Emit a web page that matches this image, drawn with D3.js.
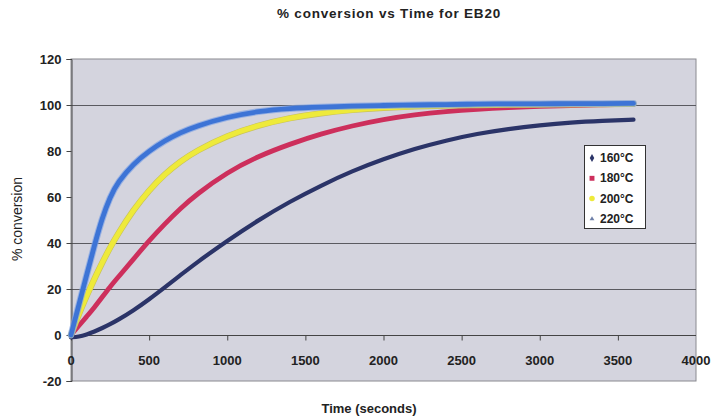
<!DOCTYPE html>
<html>
<head>
<meta charset="utf-8">
<script src="https://cdn.jsdelivr.net/npm/d3@7"></script>
<style>
  html, body { margin: 0; padding: 0; background: #ffffff; }
  svg { display: block; font-family: "Liberation Sans", Arial, sans-serif; }
</style>
</head>
<body>
<svg id="chart" width="713" height="420"></svg>
<script>
// ---- data ----
const chartTitle = "% conversion vs Time for EB20";
const xAxisTitle = "Time (seconds)";
const yAxisTitle = "% conversion";
const seriesNames = ["160°C", "180°C", "200°C", "220°C"];
const time = [0, 50, 100, 150, 200, 250, 300, 400, 500, 600, 700, 800, 1000, 1200, 1400, 1600, 1800, 2000, 2200, 2400, 2600, 2800, 3000, 3200, 3400, 3600];
const conv160 = [-1, -0.8, 0.2, 1.5, 3, 4.7, 6.5, 10.7, 15.5, 20.7, 26, 31.3, 41, 50, 58, 65, 71.3, 76.5, 81, 84.6, 87.5, 89.6, 91.2, 92.4, 93.1, 93.6];
const conv180 = [0, 4, 8, 12, 16.5, 21, 25, 33, 41, 48.3, 55, 61, 70.8, 77.8, 83, 87.5, 91, 93.8, 95.8, 97.2, 98.2, 98.9, 99.4, 99.8, 100.1, 100.3];
const conv200 = [0, 9, 17, 24.5, 31.5, 38, 44, 54.5, 63, 70, 75.5, 80, 86.8, 91.2, 94.4, 96.5, 97.9, 98.8, 99.4, 99.8, 100, 100.1, 100.2, 100.3, 100.4, 100.5];
const conv220 = [0, 13, 26, 39, 51, 60, 66.5, 74.5, 80, 84.5, 88, 90.8, 94.8, 97.3, 98.5, 99.1, 99.5, 99.8, 100, 100.2, 100.4, 100.5, 100.5, 100.6, 100.6, 100.7];
const xTicks = [0, 500, 1000, 1500, 2000, 2500, 3000, 3500, 4000];
const yTicks = [-20, 0, 20, 40, 60, 80, 100, 120];
const gridValues = [20, 40, 100];

// ---- layout ----
const svg = d3.select("#chart");
const plot = { left: 71, right: 696, top: 59, bottom: 381 };
const x = d3.scaleLinear().domain([0, 4000]).range([plot.left, plot.right]);
const y = d3.scaleLinear().domain([-20, 120]).range([plot.bottom, plot.top]);

const colors = ["#2b3468", "#cd2f5c", "#eeea3a", "#3d74d6"];
const widths = [4.2, 4.8, 5, 4.8];

// plot background
svg.append("rect")
  .attr("x", plot.left).attr("y", plot.top)
  .attr("width", plot.right - plot.left).attr("height", plot.bottom - plot.top)
  .attr("fill", "#d4d4de").attr("stroke", "#8a8a90").attr("stroke-width", 1);

// gridlines
svg.append("g").selectAll("line").data(gridValues).join("line")
  .attr("x1", plot.left).attr("x2", plot.right)
  .attr("y1", d => Math.round(y(d)) + 0.5).attr("y2", d => Math.round(y(d)) + 0.5)
  .attr("stroke", "#5a5a60").attr("stroke-width", 1);

// y axis
const yAxis = d3.axisLeft(y).tickValues(yTicks).tickSize(5).tickPadding(5).tickFormat(d => String(d));
const gy = svg.append("g").attr("transform", `translate(${plot.left + 0.5},0)`).call(yAxis);
gy.select(".domain").attr("stroke", "#444");
gy.selectAll(".tick line").attr("stroke", "#444");
gy.selectAll("text").attr("font-size", 13).attr("font-weight", "bold").attr("fill", "#222")
  .attr("font-family", "'Liberation Sans', Arial, sans-serif");

// x axis at y = 0
const xAxis = d3.axisBottom(x).tickValues(xTicks.filter(d => d < 4000)).tickSize(5).tickFormat("");
const gx = svg.append("g").attr("transform", `translate(0,${Math.round(y(0)) + 0.5})`).call(xAxis);
gx.select(".domain").attr("stroke", "#444").attr("d", `M${plot.left},0H${plot.right}`);
gx.selectAll(".tick line").attr("stroke", "#444");

// x tick labels (between 0 and -20)
svg.append("g").selectAll("text").data(xTicks).join("text")
  .attr("x", d => x(d)).attr("y", y(-11))
  .attr("text-anchor", "middle").attr("dominant-baseline", "central")
  .attr("font-size", 13).attr("font-weight", "bold").attr("fill", "#222")
  .text(d => d);

// series lines
const seriesData = [conv160, conv180, conv200, conv220];
const line = d3.line().x(d => x(d[0])).y(d => y(d[1])).curve(d3.curveBasis);
const gLines = svg.append("g");
seriesData.forEach((vals, i) => {
  const pts = time.map((t, j) => [t, vals[j]]);
  if (i === 2) {
    gLines.append("path").attr("d", line(pts)).attr("fill", "none")
      .attr("stroke", "#c8c25a").attr("stroke-width", widths[i] + 1.2).attr("stroke-linecap", "round");
  }
  if (i === 3) {
    gLines.append("path").attr("d", line(pts)).attr("fill", "none")
      .attr("stroke", "#7fa3e4").attr("stroke-width", widths[i] + 2).attr("stroke-linecap", "round").attr("opacity", 0.7);
  }
  gLines.append("path").attr("d", line(pts)).attr("fill", "none")
    .attr("stroke", colors[i]).attr("stroke-width", widths[i]).attr("stroke-linecap", "round");
});

// titles
svg.append("text").attr("x", 389).attr("y", 18).attr("text-anchor", "middle")
  .attr("font-size", 13.5).attr("font-weight", "bold").attr("fill", "#222").attr("letter-spacing", 0.8)
  .text(chartTitle);
svg.append("text").attr("x", 369).attr("y", 413).attr("text-anchor", "middle")
  .attr("font-size", 13).attr("font-weight", "bold").attr("fill", "#222")
  .text(xAxisTitle);
svg.append("text").attr("transform", "translate(22,219) rotate(-90)").attr("text-anchor", "middle")
  .attr("font-size", 14).attr("fill", "#222")
  .text(yAxisTitle);

// legend
const lg = svg.append("g");
lg.append("rect").attr("x", 584.5).attr("y", 145.5).attr("width", 61).attr("height", 83)
  .attr("fill", "#ffffff").attr("stroke", "#333").attr("stroke-width", 1);
const symbols = [d3.symbolDiamond, d3.symbolSquare, d3.symbolCircle, d3.symbolTriangle];
const symColors = ["#2b3468", "#cd2f5c", "#eeea3a", "#6d7fa8"];
const symSizes = [18, 24, 24, 10];
seriesNames.forEach((name, i) => {
  const cy = 158 + i * 20.3;
  lg.append("path").attr("d", d3.symbol().type(symbols[i]).size(symSizes[i])())
    .attr("transform", `translate(592,${cy})`).attr("fill", symColors[i]);
  lg.append("text").attr("x", 600).attr("y", cy).attr("dominant-baseline", "central")
    .attr("font-size", 12).attr("font-weight", "bold").attr("fill", "#222").text(name);
});
</script>
</body>
</html>
